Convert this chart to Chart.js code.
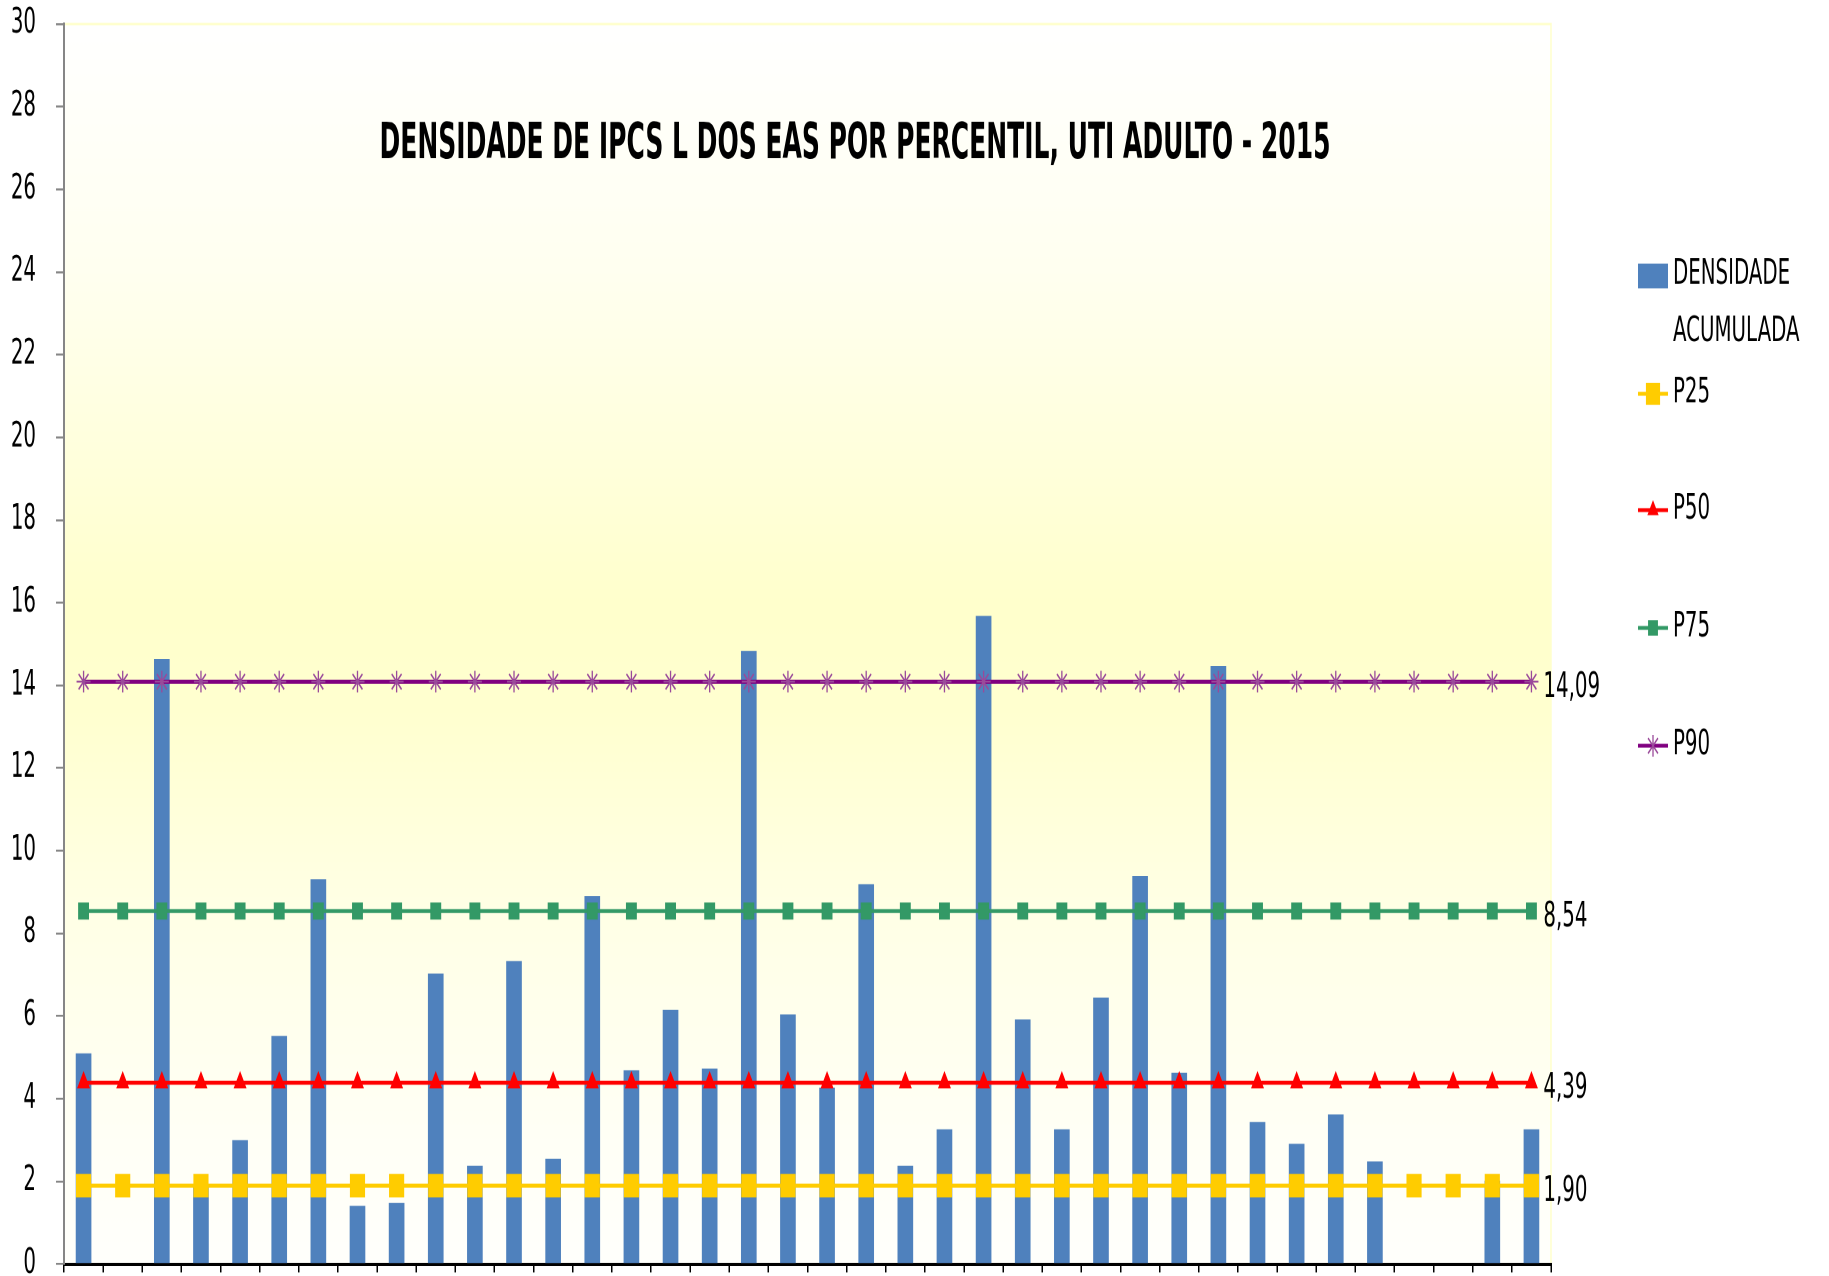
<!DOCTYPE html>
<html>
<head>
<meta charset="utf-8">
<script src="https://cdn.jsdelivr.net/npm/chart.js@4.4.0/dist/chart.umd.min.js"></script>
<style>
  html, body { margin: 0; padding: 0; background: #fff; }
</style>
</head>
<body>
<!-- el canvas se dibuja a 823px de alto y se estira a 1276px, como el original -->
<canvas id="grafico" width="1829" height="823" style="display:block;width:1829px;height:1276px"></canvas>
<script>
// Datos
const eas = ['1', '2', '3', '4', '5', '6', '7', '8', '9', '10',
             '11', '12', '13', '14', '15', '16', '17', '18', '19', '20',
             '21', '22', '23', '24', '25', '26', '27', '28', '29', '30',
             '31', '32', '33', '34', '35', '36', '37', '38'];

const densidade = [5.10, 0, 14.64, 1.90, 3.00, 5.52, 9.31, 1.41, 1.48, 7.03,
                   2.38, 7.33, 2.55, 8.90, 4.69, 6.15, 4.73, 14.83, 6.04, 4.27,
                   9.19, 2.38, 3.26, 15.68, 5.92, 3.26, 6.45, 9.39, 4.63, 14.47,
                   3.44, 2.91, 3.62, 2.48, 0, 0, 2.02, 3.26];

const percentilNomes = ['P25', 'P50', 'P75', 'P90'];
const percentilValores = [1.90, 4.39, 8.54, 14.09];

const yMin = 0, yMax = 30, yPaso = 2;

const FONTE = "'Liberation Sans Narrow', 'Arial Narrow', 'DejaVu Sans Condensed', sans-serif";
const TITULO = 'DENSIDADE DE IPCS L DOS EAS POR PERCENTIL, UTI ADULTO - 2015';

Chart.defaults.font.family = FONTE;
Chart.defaults.color = '#000';

// estilo de cada percentil
const estilos = {
    P25: { color: '#FFCC00', marca: '#FFCC00', pointStyle: 'rect', radio: 10 },
    P50: { color: '#FF0000', marca: '#FF0000', pointStyle: 'triangle', radio: 6.5 },
    P75: { color: '#339966', marca: '#339966', pointStyle: 'rect', radio: 7 },
    P90: { color: '#800080', marca: '#9A4A9A', pointStyle: 'star', radio: 7 }
};

const datasetsPercentil = percentilNomes.map((nombre, i) => {
    const e = estilos[nombre];
    return {
        type: 'line',
        label: nombre,
        data: eas.map(() => percentilValores[i]),
        borderColor: e.color,
        backgroundColor: e.marca,
        borderWidth: 2.6,
        pointStyle: e.pointStyle,
        pointRadius: e.radio,
        pointBackgroundColor: e.marca,
        pointBorderColor: e.marca,
        pointBorderWidth: e.pointStyle === 'star' ? 1.3 : 1,
        fill: false,
        order: 0
    };
});

// Fondo degradado del área de trazado y título
const fondoPlot = {
    id: 'fondoPlot',
    beforeDraw(chart) {
        const { ctx, chartArea: a } = chart;
        const g = ctx.createLinearGradient(0, a.top, 0, a.bottom);
        g.addColorStop(0, '#FFFFFF');
        g.addColorStop(0.2, '#FFFFF0');
        g.addColorStop(0.35, '#FFFFDC');
        g.addColorStop(0.47, '#FFFFCC');
        g.addColorStop(0.56, '#FFFFD0');
        g.addColorStop(0.72, '#FFFFE6');
        g.addColorStop(0.9, '#FFFFF6');
        g.addColorStop(1, '#FFFFFC');
        ctx.save();
        ctx.fillStyle = g;
        ctx.fillRect(a.left, a.top, a.right - a.left, a.bottom - a.top);
        ctx.strokeStyle = '#FFFFCC';
        ctx.lineWidth = 1.5;
        ctx.strokeRect(a.left, a.top, a.right - a.left, a.bottom - a.top);
        ctx.restore();
    },
    beforeDatasetsDraw(chart) {
        const ctx = chart.ctx;
        ctx.save();
        ctx.font = 'bold 32px ' + FONTE;
        const w = ctx.measureText(TITULO).width;
        ctx.translate(855, 102);
        ctx.scale(951 / w, 1);
        ctx.textAlign = 'center';
        ctx.textBaseline = 'alphabetic';
        ctx.fillStyle = '#000';
        ctx.fillText(TITULO, 0, 0);
        ctx.restore();
    }
};

function dibujarMarca(ctx, estilo, x, y, r) {
    ctx.beginPath();
    if (estilo === 'rect') {
        const s = r * Math.SQRT1_2;
        ctx.rect(x - s, y - s, 2 * s, 2 * s);
        ctx.fill();
    } else if (estilo === 'triangle') {
        ctx.moveTo(x, y - r);
        ctx.lineTo(x + r * 0.866, y + r / 2);
        ctx.lineTo(x - r * 0.866, y + r / 2);
        ctx.closePath();
        ctx.fill();
    } else {
        ctx.moveTo(x, y - r); ctx.lineTo(x, y + r);
        const d = r * Math.SQRT1_2;
        ctx.moveTo(x - d, y - d); ctx.lineTo(x + d, y + d);
        ctx.moveTo(x - d, y + d); ctx.lineTo(x + d, y - d);
        ctx.stroke();
    }
}

// Etiquetas de los percentiles y leyenda
const rotulos = {
    id: 'rotulos',
    afterDatasetsDraw(chart) {
        const ctx = chart.ctx;
        ctx.save();
        ctx.font = '22px ' + FONTE;
        ctx.fillStyle = '#000';
        ctx.textAlign = 'left';
        ctx.textBaseline = 'middle';
        chart.data.datasets.forEach((ds, i) => {
            if (ds.type !== 'line') return;
            const meta = chart.getDatasetMeta(i);
            const pt = meta.data[meta.data.length - 1];
            const v = ds.data[ds.data.length - 1];
            ctx.fillText(v.toFixed(2).replace('.', ','), pt.x + 12, pt.y + 4);
        });
        ctx.restore();
    },
    afterDraw(chart) {
        const ctx = chart.ctx;
        const x0 = 1638, x1 = 1668, xt = 1673;
        ctx.save();
        ctx.font = '22px ' + FONTE;
        ctx.textAlign = 'left';
        ctx.textBaseline = 'middle';

        const barras = chart.data.datasets[0];
        ctx.fillStyle = barras.backgroundColor;
        ctx.fillRect(x0, 170, x1 - x0, 16);
        ctx.fillStyle = '#000';
        ctx.fillText('DENSIDADE', xt, 177.5);
        ctx.fillText('ACUMULADA', xt, 214.5);

        const ys = [254, 329, 405, 481];
        percentilNomes.forEach((nombre, i) => {
            const e = estilos[nombre];
            const y = ys[i];
            ctx.strokeStyle = e.color;
            ctx.lineWidth = 2.6;
            ctx.beginPath();
            ctx.moveTo(x0, y);
            ctx.lineTo(x1, y);
            ctx.stroke();
            ctx.fillStyle = e.marca;
            ctx.strokeStyle = e.marca;
            ctx.lineWidth = 1.3;
            dibujarMarca(ctx, e.pointStyle, (x0 + x1) / 2, y, e.radio);
            ctx.fillStyle = '#000';
            ctx.fillText(nombre, xt, y);
        });
        ctx.restore();
    }
};

const ctx = document.getElementById('grafico').getContext('2d');
new Chart(ctx, {
    type: 'bar',
    data: {
        labels: eas,
        datasets: [{
            label: 'DENSIDADE ACUMULADA',
            data: densidade,
            backgroundColor: '#4F81BD',
            borderWidth: 0,
            categoryPercentage: 1,
            barPercentage: 0.4,
            order: 1
        }, ...datasetsPercentil]
    },
    options: {
        responsive: false,
        devicePixelRatio: 2,
        animation: false,
        layout: {
            autoPadding: false,
            padding: { top: 15.5, right: 278, bottom: 0, left: 0 }
        },
        plugins: {
            legend: { display: false },
            tooltip: { enabled: false },
            title: { display: false }
        },
        scales: {
            x: {
                ticks: { display: false },
                grid: {
                    drawOnChartArea: false,
                    drawTicks: true,
                    tickLength: 5.4,
                    color: '#000',
                    lineWidth: 1.5
                },
                border: { color: '#000', width: 2 },
                afterFit(scale) { scale.height = 7.7; }
            },
            y: {
                min: yMin,
                max: yMax,
                ticks: {
                    stepSize: yPaso,
                    padding: 20,
                    font: { size: 22 },
                    color: '#000'
                },
                grid: {
                    drawOnChartArea: false,
                    drawTicks: true,
                    tickLength: 8,
                    color: '#868686',
                    lineWidth: 1.3
                },
                border: { color: '#868686', width: 2 },
                afterFit(scale) {
                    scale.width = 64;
                    scale.paddingTop = 0;
                    scale.paddingBottom = 0;
                }
            }
        }
    },
    plugins: [fondoPlot, rotulos]
});
</script>
</body>
</html>
